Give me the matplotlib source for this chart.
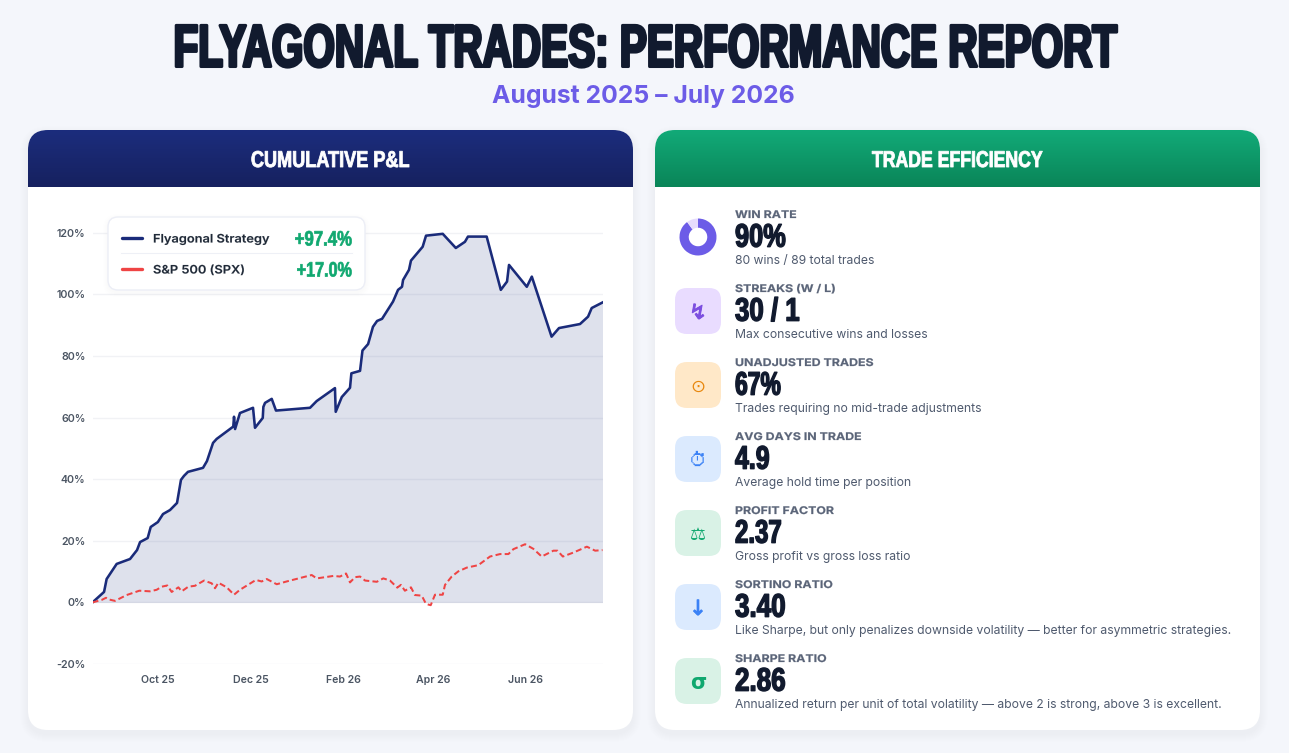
#!/usr/bin/env python3
""" performance report: cumulative P&L chart and trade efficiency cards """
import numpy as np
import matplotlib
matplotlib.use("Agg")
import matplotlib.pyplot as plt
import matplotlib.patheffects as pe
from matplotlib import font_manager
from matplotlib.ft2font import FT2Font
from matplotlib.patches import FancyBboxPatch, Circle
from matplotlib.lines import Line2D
from matplotlib.transforms import Affine2D

strategy_days = [0, 7.6, 9.3, 15.9, 24.7, 29.3, 31.3, 36.3, 38.3, 43, 46.4, 51, 55.6, 58.2, 60.2, 62.8,
                 72.7, 75.3, 79.3, 81.7, 92.6, 93.1, 93.8, 97, 105.6, 106.9, 112, 112.4, 113.5, 117.9,
                 120.7, 143.1, 147.5, 159.5, 160, 164, 169.4, 170.3, 176, 177.6, 181.3, 184.5, 187.2,
                 190.5, 197.7, 201, 203.6, 204.3, 208.2, 209.5, 217.2, 219.4, 230.4, 239, 245, 247,
                 259.3, 268.6, 272.7, 274, 285.7, 289, 302, 306.9, 320.7, 326, 328.4, 335.5]
strategy_pct = [0, 3.4, 7.6, 12.5, 14.1, 17.0, 19.6, 20.9, 24.5, 26.1, 28.7, 30.0, 32.3, 39.8, 41.1, 42.4,
                43.7, 45.9, 51.8, 53.1, 57.1, 60.3, 56.3, 61.5, 63.2, 56.7, 59.9, 63.5, 64.8, 66.1,
                62.3, 63.2, 65.4, 69.6, 61.9, 66.7, 69.7, 74.4, 75.2, 81.8, 83.9, 89.5, 91.4,
                92.1, 97.7, 101.5, 102.5, 104.7, 108, 111, 115.5, 119.1, 119.7, 115.1, 117.1, 118.8,
                118.8, 101.5, 104.2, 109.6, 102.5, 105.8, 86.3, 89.1, 90.4, 92.8, 95.6, 97.4]

spx_days = [0, 6, 8.9, 10.4, 14.8, 22.5, 30.8, 37.8, 42.2, 45.5, 49.2, 52.1, 56.5, 58.7, 63, 67.4, 73.4,
            78.4, 80.6, 82.8, 88.3, 93.1, 97, 107.5, 111.3, 114.6, 121.2, 127.7, 144.2, 147.5, 153,
            158.5, 162.8, 166.8, 169.4, 172.7, 176, 179.3, 187, 191.3, 195.7, 200.5, 202.9, 205.5,
            209.5, 212.1, 216.6, 219.4, 222.5, 225.3, 230.4, 231.9, 236.3, 240.7, 246.2, 253.8,
            261.5, 268.1, 273.6, 276.9, 284.6, 290, 295.5, 303.2, 305.9, 309.4, 316.4, 325.2, 330.7, 335.5]
spx_pct = [0, 0.8, 1.5, 1.0, 0.5, 2.4, 3.8, 3.6, 4.1, 5.1, 5.5, 3.4, 4.9, 3.6, 5.1, 5.4, 7.1,
           6.2, 4.6, 6.4, 4.9, 2.5, 4.1, 7.3, 6.8, 7.6, 5.9, 6.8, 8.9, 7.8, 8.2,
           8.6, 8.4, 9.4, 6.5, 8.2, 8.4, 7.1, 6.7, 7.8, 7.1, 4.8, 5.7, 3.8,
           4.9, 2.4, 2.2, -0.5, -0.9, 2.5, 2.5, 5.7, 8.4, 10.1, 11.3, 12.1,
           14.9, 15.7, 15.7, 17.3, 18.9, 17.4, 14.9, 16.8, 16.8, 14.9, 16.2, 18.1, 16.8, 17.0]

month_days = [43, 104, 165, 224, 285]
month_labels = ["Oct 25", "Dec 25", "Feb 26", "Apr 26", "Jun 26"]
y_ticks = [-20, 0, 20, 40, 60, 80, 100, 120]

legend_names = ["Flyagonal Strategy", "S&P 500 (SPX)"]
legend_values = ["+97.4%", "+17.0%"]
legend_widths = [58, 56]

win_parts = [90, 10]
metric_labels = ["WIN RATE", "STREAKS (W / L)", "UNADJUSTED TRADES", "AVG DAYS IN TRADE",
                 "PROFIT FACTOR", "SORTINO RATIO", "SHARPE RATIO"]
metric_values = ["90%", "30 / 1", "67%", "4.9", "2.37", "3.40", "2.86"]
value_widths = [52, 66, 47, 36, 48, 52, 52]
metric_notes = ["80 wins / 89 total trades",
                "Max consecutive wins and losses",
                "Trades requiring no mid-trade adjustments",
                "Average hold time per position",
                "Gross profit vs gross loss ratio",
                "Like Sharpe, but only penalizes downside volatility \u2014 better for asymmetric strategies.",
                "Annualized return per unit of total volatility \u2014 above 2 is strong, above 3 is excellent."]
metric_icons = [None, "\u21af", "\u2299", "\u23f1", "\u2696", "\u2193", "\u03c3"]
icon_bg = [None, "#e9dcff", "#ffe8c8", "#dbeafe", "#d9f2e6", "#dbeafe", "#d9f2e6"]
icon_fg = [None, "#7c4fe0", "#e8880f", "#3b82f6", "#10a86f", "#3b82f6", "#10a86f"]

W, H = 1289, 753
NAVY = "#1a2b7a"
RED = "#ef4444"
GREEN = "#10a870"
INK = "#111a2e"
HEAVY = ["Liberation Sans", "DejaVu Sans"]
BODY = ["Inter", "DejaVu Sans"]

fig = plt.figure(figsize=(W / 100, H / 100), dpi=100, facecolor="#f4f6fb")
renderer = fig.canvas.get_renderer()


class Squeeze(pe.AbstractPathEffect):
    """ scale a text about its anchor point and thicken it with a stroke """

    def __init__(self, anchor, sx, sy, stroke, color):
        super().__init__()
        self.anchor, self.sx, self.sy, self.stroke, self.color = anchor, sx, sy, stroke, color

    def draw_path(self, rend, gc, tpath, affine, rgbFace=None):
        ax_, ay_ = self.anchor
        aff = affine + Affine2D().translate(-ax_, -ay_).scale(self.sx, self.sy).translate(ax_, ay_)
        gc0 = rend.new_gc()
        gc0.copy_properties(gc)
        gc0.set_linewidth(self.stroke)
        if self.stroke:
            gc0.set_foreground(self.color)
        rend.draw_path(gc0, tpath, aff, rgbFace)
        gc0.restore()


def px_axes(zorder):
    ax = fig.add_axes([0, 0, 1, 1], zorder=zorder)
    ax.set_xlim(0, W)
    ax.set_ylim(H, 0)
    ax.axis("off")
    ax.patch.set_alpha(0)
    return ax


def rounded(ax, x0, y0, x1, y1, r, **kw):
    box = FancyBboxPatch((x0, y0), x1 - x0, y1 - y0, boxstyle=f"round,pad=0,rounding_size={r}", **kw)
    ax.add_patch(box)
    return box


def shadow(ax, x0, y0, x1, y1, r, drop=4, steps=8, alpha=0.0035):
    for i in range(steps, 0, -1):
        rounded(ax, x0 - i, y0 - i + drop, x1 + i, y1 + i + drop, r + i,
                fc="#1a2b7a", ec="none", alpha=alpha)


def fitted(ax, x, y, s, size, color, width=None, sx=None, stroke=0.0, ha="left", family=HEAVY,
           weight="bold", tall=1.0):
    """ text drawn to a given pixel width; the reference font is far narrower than the installed ones """
    t = ax.text(x, y, s, fontsize=size / tall, color=color, family=family, weight=weight, ha=ha, va="baseline")
    if sx is None:
        sx = (width - stroke * 100 / 72) / t.get_window_extent(renderer).width
    t.set_path_effects([Squeeze((x, H - y), sx, tall, stroke, color)])
    return t


bg = px_axes(0)

# cards with gradient headers
for x0, x1, c_top, c_bot, title, tx, tw in [(28, 633, "#1c2d7d", "#16215f", "CUMULATIVE P&L", 330, 159),
                                            (655, 1260, "#12aa78", "#0a8558", "TRADE EFFICIENCY", 957, 171)]:
    shadow(bg, x0, 130, x1, 730, 20)
    card = rounded(bg, x0, 130, x1, 730, 20, fc="white", ec="none")
    c0, c1 = np.array(matplotlib.colors.to_rgb(c_top)), np.array(matplotlib.colors.to_rgb(c_bot))
    grad = np.linspace(c0, c1, 57)[:, None, :]
    im = bg.imshow(grad, extent=(x0, x1, 187, 130), aspect="auto", zorder=2)
    im.set_clip_path(card)
    fitted(bg, tx, 167, title, 16.5, "white", width=tw, stroke=0.6, ha="center").set_zorder(3)
bg.set_xlim(0, W)
bg.set_ylim(H, 0)

fitted(bg, 644, 66.5, "FLYAGONAL TRADES: PERFORMANCE REPORT", 43, INK, width=944, stroke=2.2, ha="center", tall=1.45)
bg.text(643, 103, "August 2025 \u2013 July 2026", fontsize=17.8, color="#6c5ce7", family=BODY,
        weight="bold", ha="center", va="baseline")

# main chart, 3.08 px per percent, 120% at y=233 and -20% at y=664
Y_TOP = 125
top_px = 602.5 - Y_TOP * 3.08
ax = fig.add_axes([92.5 / W, 1 - 664 / H, 510 / W, (664 - top_px) / H], zorder=2)
ax.patch.set_alpha(0)
ax.fill_between(strategy_days, strategy_pct, 0, color=NAVY, alpha=0.14, linewidth=0, zorder=2)
ax.plot(strategy_days, strategy_pct, color=NAVY, lw=1.85, zorder=4)
ax.plot(spx_days, spx_pct, color=RED, lw=1.45, linestyle=(0, (3, 1.6)), zorder=5)
ax.set_xlim(0, 335.5)
ax.set_ylim(-20, Y_TOP)
ax.set_yticks(y_ticks)
ax.set_yticklabels([f"{v}%" for v in y_ticks], fontsize=7.7, color="#4b5563", family=BODY, weight="semibold")
ax.set_xticks(month_days)
ax.set_xticklabels(month_labels, fontsize=7.6, color="#4b5563", family=BODY, weight="semibold")
ax.tick_params(axis="both", length=0)
ax.tick_params(axis="y", pad=5)
ax.tick_params(axis="x", pad=8)
ax.grid(axis="y", color="#1e2864", alpha=0.06, lw=1)
ax.set_axisbelow(False)
for s in ax.spines.values():
    s.set_visible(False)

# legend box and right-hand metrics live on one pixel layer
top = px_axes(3)
shadow(top, 108, 217, 365, 290, 10, drop=2, steps=5)
rounded(top, 108, 217, 365, 290, 10, fc="white", ec="#eceef6", lw=1)
top.add_line(Line2D([121, 352], [252.5, 252.5], color="#eef0f6", lw=0.8))
for i, (name, value, vw, col) in enumerate(zip(legend_names, legend_values, legend_widths, [NAVY, RED])):
    yy = 238 + i * 31
    top.add_line(Line2D([122, 142], [yy, yy], color=col, lw=2.4, solid_capstyle="round"))
    fitted(top, 153, yy + 4.5, name, 8.4, "#1f2937", sx=1.1, stroke=0.1, family=BODY, weight="semibold")
    fitted(top, 352, yy + 7.5, value, 15, GREEN, width=vw, stroke=0.5, ha="right")

# the stopwatch glyph is looked up among installed fonts, drawn as a shape if none has it
watch_font = None
for f in font_manager.fontManager.ttflist:
    try:
        if FT2Font(f.fname).get_char_index(0x23f1):
            watch_font = f.name
            break
    except Exception:
        pass

for i, (label, value, vw, note) in enumerate(zip(metric_labels, metric_values, value_widths, metric_notes)):
    y0 = 74 * i
    fitted(top, 735, 218 + y0, label, 7.6, "#5a6478", sx=1.17, stroke=0.15, family=BODY)
    fitted(top, 735, 246.7 + y0, value, 23.5, INK, width=vw, stroke=1.0)
    top.text(735, 264 + y0, note, fontsize=8.75, color="#4f5a6e", family=BODY, va="baseline")
    if metric_icons[i]:
        rounded(top, 675, 214 + y0, 721, 260 + y0, 12, fc=icon_bg[i], ec="none")
        glyph = metric_icons[i]
        cx, cy = 698, 237 + y0
        if glyph == "\u23f1" and watch_font is None:
            top.add_patch(Circle((cx, cy + 0.5), 6.8, fc="none", ec=icon_fg[i], lw=1.2))
            top.add_line(Line2D([cx, cx], [cy - 3.5, cy + 0.5], color=icon_fg[i], lw=1))
            top.add_line(Line2D([cx - 2, cx + 2], [cy - 8, cy - 8], color=icon_fg[i], lw=1))
            continue
        fam = [watch_font, "DejaVu Sans"] if glyph == "\u23f1" else ["DejaVu Sans"]
        t = top.text(cx, cy, glyph, fontsize=15 if glyph in "\u21af\u2193\u03c3" else 13, color=icon_fg[i],
                     family=fam, ha="center", va="center_baseline",
                     weight="bold" if glyph == "\u03c3" else "normal")
        if glyph in "\u21af\u2193":
            t.set_path_effects([pe.withStroke(linewidth=0.7, foreground=icon_fg[i])])

donut = fig.add_axes([679.5 / W, 1 - 255.5 / H, 37 / W, 37 / H], zorder=4)
donut.pie(win_parts, colors=["#6c5ce7", "#e6dcfd"], startangle=90, counterclock=False, radius=1,
          wedgeprops=dict(width=0.5))
donut.set_xlim(-1, 1)
donut.set_ylim(-1, 1)

fig.savefig("out.png", dpi=100, facecolor=fig.get_facecolor())
